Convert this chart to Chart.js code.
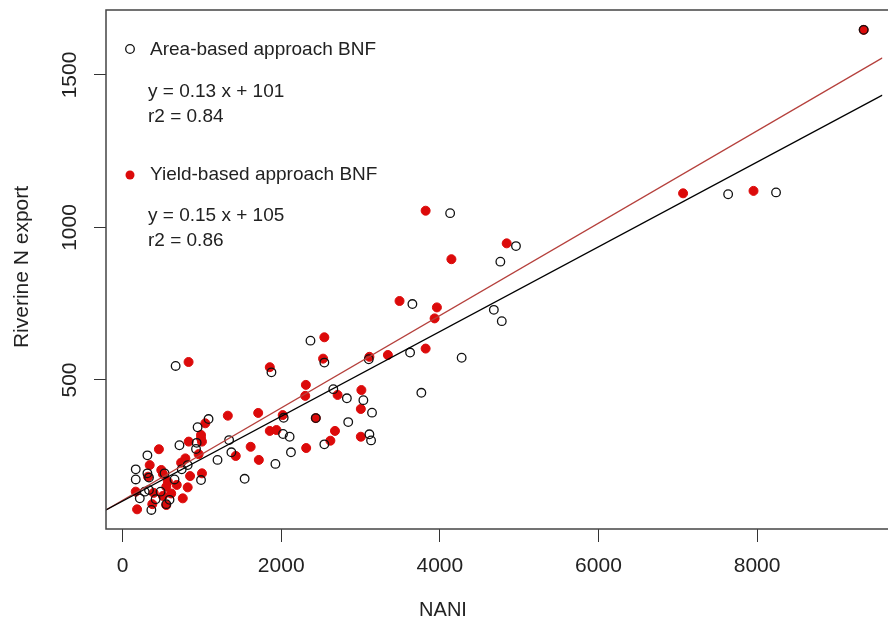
<!DOCTYPE html>
<html>
<head>
<meta charset="utf-8">
<script src="https://cdn.jsdelivr.net/npm/chart.js@4.4.0/dist/chart.umd.min.js"></script>
<style>
  html, body { margin: 0; padding: 0; background: #ffffff; }
  #wrap { width: 888px; height: 630px; }
</style>
</head>
<body>
<div id="wrap"><canvas id="c" width="888" height="630"></canvas></div>
<script>
// ---- data ----
const xTicks = [0, 2000, 4000, 6000, 8000];
const yTicks = [500, 1000, 1500];

const areaX = [9344, 8239, 7635, 4960, 4763, 4130, 3654, 4681, 4781, 3625, 4275, 3767,
  2369, 2544, 1877, 3104, 2657, 2828, 3036, 3145, 2031, 2845, 1084, 1343, 2023, 2106,
  3112, 3133, 2544, 1372, 2123, 1197, 1927, 1539, 989, 669, 946, 717, 934, 926,
  313, 166, 166, 313, 333, 333, 217, 363, 655, 529, 417, 279, 746, 821, 592, 479, 551, 2436];
const areaY = [1648, 1115, 1109, 939, 888, 1047, 749, 730, 693, 590, 573, 458,
  629, 557, 525, 568, 470, 440, 434, 393, 376, 362, 372, 303, 323, 314,
  322, 302, 289, 263, 263, 238, 225, 176, 172, 546, 345, 286, 294, 274,
  253, 207, 174, 194, 180, 139, 112, 74, 174, 194, 109, 134, 207, 221, 107, 134, 93, 375];

const yieldX = [9344, 7955, 7067, 3821, 4843, 4146, 3492, 3963, 3934, 3345, 3821,
  2544, 2528, 3112, 1856, 2311, 2303, 2711, 3011, 3004, 1043, 1327, 1710, 2019, 2436,
  1856, 1940, 2678, 2620, 3004, 989, 1615, 1427, 1718, 2315, 1001, 832, 989, 1001, 834,
  458, 738, 792, 959, 342, 488, 508, 851, 321, 571, 551, 821, 166, 613, 392, 508, 759,
  375, 551, 183, 683];
const yieldY = [1648, 1120, 1112, 1055, 948, 896, 759, 738, 702, 582, 603,
  640, 570, 576, 542, 484, 448, 451, 467, 405, 358, 383, 392, 385, 375,
  333, 336, 333, 301, 314, 309, 281, 251, 238, 277, 194, 559, 320, 298, 298,
  273, 229, 243, 257, 221, 205, 192, 185, 183, 167, 150, 148, 134, 128, 130, 120, 112,
  93, 90, 76, 156];

// fitted lines, end points read at the plot edges
const fitX = [-209, 9580];
const fitAreaY = [74, 1434];
const fitYieldY = [74, 1556];

const legendLines = {
  area: "Area-based approach BNF",
  areaEq: "y = 0.13 x + 101",
  areaR2: "r2 = 0.84",
  yield: "Yield-based approach BNF",
  yieldEq: "y = 0.15 x + 105",
  yieldR2: "r2 = 0.86"
};
const xTitle = "NANI";
const yTitle = "Riverine N export";

const FONT = "'Liberation Sans', Arial, sans-serif";
const RED = '#dc0a0a';

function pts(xs, ys) { return xs.map((x, i) => ({ x: x, y: ys[i] })); }

const decor = {
  id: 'decor',
  afterDraw(chart) {
    const ctx = chart.ctx;
    const a = chart.chartArea;
    const ys = chart.scales.y;
    ctx.save();
    // box
    ctx.strokeStyle = '#444';
    ctx.lineWidth = 1.5;
    ctx.strokeRect(a.left, a.top, a.right - a.left + 20, a.bottom - a.top);
    // y tick labels (rotated)
    ctx.fillStyle = '#222';
    ctx.font = '21px ' + FONT;
    ctx.textAlign = 'center';
    ctx.textBaseline = 'middle';
    ys.ticks.forEach(t => {
      const py = ys.getPixelForValue(t.value);
      ctx.save();
      ctx.translate(70, py);
      ctx.rotate(-Math.PI / 2);
      ctx.fillText(String(t.value), 0, 0);
      ctx.restore();
    });
    // axis titles
    ctx.font = '20px ' + FONT;
    ctx.fillText(xTitle, 443, 610);
    ctx.save();
    ctx.translate(22, 267);
    ctx.rotate(-Math.PI / 2);
    ctx.font = '21px ' + FONT;
    ctx.fillText(yTitle, 0, 0);
    ctx.restore();
    // legend / annotation
    ctx.font = '19px ' + FONT;
    ctx.textAlign = 'left';
    ctx.fillStyle = '#222';
    ctx.beginPath();
    ctx.arc(130, 49, 4.3, 0, Math.PI * 2);
    ctx.strokeStyle = '#111';
    ctx.lineWidth = 1.3;
    ctx.stroke();
    ctx.fillText(legendLines.area, 150, 50);
    ctx.fillText(legendLines.areaEq, 148, 92);
    ctx.fillText(legendLines.areaR2, 148, 117);
    ctx.beginPath();
    ctx.arc(130, 175, 4.5, 0, Math.PI * 2);
    ctx.fillStyle = RED;
    ctx.fill();
    ctx.fillStyle = '#222';
    ctx.fillText(legendLines.yield, 150, 175);
    ctx.fillText(legendLines.yieldEq, 148, 216);
    ctx.fillText(legendLines.yieldR2, 148, 241);
    ctx.restore();
  }
};

new Chart(document.getElementById('c'), {
  type: 'scatter',
  data: {
    datasets: [
      { label: 'fitArea', data: pts(fitX, fitAreaY), showLine: true, pointRadius: 0,
        borderColor: '#000', borderWidth: 1.2, order: 0 },
      { label: 'fitYield', data: pts(fitX, fitYieldY), showLine: true, pointRadius: 0,
        borderColor: '#b5403c', borderWidth: 1.2, order: 0 },
      { label: legendLines.area, data: pts(areaX, areaY), pointRadius: 4.3,
        borderColor: '#111', borderWidth: 1.3, backgroundColor: 'rgba(0,0,0,0)', order: 1 },
      { label: legendLines.yield, data: pts(yieldX, yieldY), pointRadius: 4.5,
        borderColor: RED, borderWidth: 1, backgroundColor: RED, order: 2 }
    ]
  },
  options: {
    responsive: false,
    animation: false,
    events: [],
    layout: { padding: { top: 10, left: 0, right: 0, bottom: 0 } },
    plugins: { legend: { display: false }, tooltip: { enabled: false } },
    scales: {
      x: {
        type: 'linear', min: -209, max: 9580,
        afterBuildTicks: s => { s.ticks = xTicks.map(v => ({ value: v })); },
        afterFit: s => { s.height = 101; },
        border: { display: false },
        grid: { drawOnChartArea: false, drawTicks: true, tickLength: 13, color: '#333', lineWidth: 1 },
        ticks: { font: { family: FONT, size: 21 }, color: '#222', padding: 12, maxRotation: 0, autoSkip: false,
                 callback: v => String(v) }
      },
      y: {
        type: 'linear', min: 11.5, max: 1713,
        afterBuildTicks: s => { s.ticks = yTicks.map(v => ({ value: v })); },
        afterFit: s => { s.width = 106; },
        border: { display: false },
        grid: { drawOnChartArea: false, drawTicks: true, tickLength: 12, color: '#333', lineWidth: 1 },
        ticks: { display: false }
      }
    }
  },
  plugins: [decor]
});
</script>
</body>
</html>
